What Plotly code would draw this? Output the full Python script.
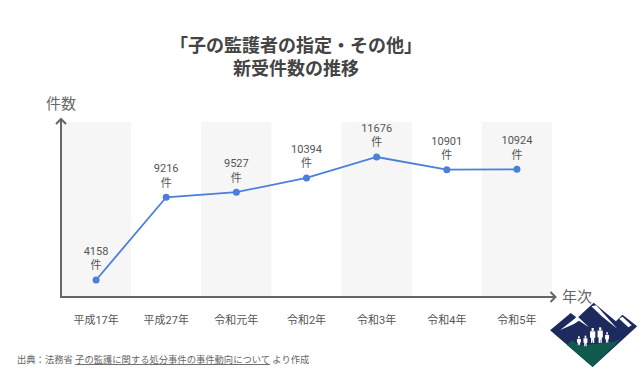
import plotly.graph_objects as go

categories = ["平成17年", "平成27年", "令和元年", "令和2年", "令和3年", "令和4年", "令和5年"]
cases = [4158, 9216, 9527, 10394, 11676, 10901, 10924]
labels = [f"{v}<br>件" for v in cases]
band_indices = [0, 2, 4, 6]

W, H = 640, 380
L, R, T, B = 61, 552.5, 122, 297
FONT = "Roboto, 'Noto Sans CJK JP', sans-serif"
GREY = "#666666"
NAVY = "#1c2a5e"
GREEN = "#0f5a4c"


def px(x):
    return (x - L) / (R - L)


def py(y):
    return (B - y) / (B - T)


def poly(points, color):
    d = "M" + " L".join(f"{px(x):.5f},{py(y):.5f}" for x, y in points) + " Z"
    return dict(type="path", xref="paper", yref="paper", path=d,
                fillcolor=color, line=dict(width=0), layer="above")


def seg(points, width=2, color=GREY):
    d = "M" + " L".join(f"{px(x):.5f},{py(y):.5f}" for x, y in points)
    return dict(type="path", xref="paper", yref="paper", path=d,
                line=dict(color=color, width=width), layer="above")


def lz(points):
    # logo outline points, measured in the logo's own enlarged crop
    return [(545 + x / 3.05, 298 + y / 3) for x, y in points]


def person(cx, top, bottom, w):
    r = w * 0.42
    head = lz([(cx - r, top), (cx + r, top), (cx + r, top + 2.2 * r * 1.2), (cx - r, top + 2.2 * r * 1.2)])
    s = top + 2.2 * r * 1.2 + 1
    body = lz([(cx - w, s), (cx + w, s), (cx + w, s + (bottom - s) * 0.55), (cx + w * 0.6, s + (bottom - s) * 0.55),
               (cx + w * 0.6, bottom), (cx + 1, bottom), (cx, s + (bottom - s) * 0.65), (cx - 1, bottom),
               (cx - w * 0.6, bottom), (cx - w * 0.6, s + (bottom - s) * 0.55), (cx - w, s + (bottom - s) * 0.55)])
    return [poly(head, "white"), poly(body, "white")]


fig = go.Figure()
fig.add_trace(go.Scatter(
    x=categories, y=cases, mode="lines+markers",
    line=dict(color="#4a7fdc", width=1.8),
    marker=dict(color="#4a7fdc", size=7),
    cliponaxis=False, hoverinfo="skip",
))
fig.add_trace(go.Scatter(
    x=categories, y=cases, mode="markers+text",
    marker=dict(size=11, opacity=0),
    text=labels, textposition="top center",
    textfont=dict(family=FONT, size=11, color="#555555"),
    cliponaxis=False, hoverinfo="skip",
))

shapes = [
    dict(type="rect", xref="x", yref="paper", x0=i - 0.5, x1=i + 0.5, y0=0, y1=1,
         fillcolor="#f6f6f6", line=dict(width=0), layer="below")
    for i in band_indices
]
shapes += [
    seg([(61, 119), (61, 297), (555, 297)]),
    seg([(56, 124), (61, 119), (66, 124)]),
    seg([(551, 292), (556, 297), (551, 302)]),
]
# logo
shapes += [
    poly(lz([(17, 97), (80, 45), (100, 60), (150, 14), (218, 70), (238, 50), (283, 85), (147, 207)]), NAVY),
    poly(lz([(68, 140), (85, 127), (105, 143), (210, 132), (232, 124), (147, 207)]), GREEN),
    poly(lz([(48, 96), (88, 65), (100, 55), (136, 88), (105, 68), (90, 78)]), "white"),
    poly(lz([(143, 25), (158, 22), (222, 92), (175, 55)]), "white"),
    poly(lz([(228, 62), (238, 56), (266, 82), (256, 88)]), "white"),
]
shapes += person(105, 115, 142, 6) + person(125, 113, 145, 6) + person(147, 90, 135, 8) \
    + person(170, 88, 135, 8) + person(191, 103, 134, 6)

ann = [
    dict(text="<b>「子の監護者の指定・その他」<br>新受件数の推移</b>", x=px(296), y=py(55), xanchor="center",
         font=dict(family="'Noto Sans CJK JP', sans-serif", size=18, color="#444444"), align="center"),
    dict(text="件数", x=px(61), y=py(104), xanchor="center",
         font=dict(family=FONT, size=15, color=GREY)),
    dict(text="年次", x=px(578), y=py(297), xanchor="center",
         font=dict(family=FONT, size=15, color=GREY)),
    dict(text="出典：法務省 <u>子の監護に関する処分事件の事件動向について</u> より作成",
         x=px(14.5), y=py(359), xanchor="left",
         font=dict(family=FONT, size=9.3, color=GREY)),
]
for a in ann:
    a.update(xref="paper", yref="paper", yanchor="middle", showarrow=False)

fig.update_layout(
    width=W, height=H, paper_bgcolor="white", plot_bgcolor="white", showlegend=False,
    margin=dict(l=L, r=W - R, t=T, b=H - B, autoexpand=False),
    shapes=shapes, annotations=ann,
    xaxis=dict(type="category", range=[-0.5, 6.5], showgrid=False, zeroline=False, showline=False,
               ticks="", ticklabelstandoff=15, tickfont=dict(family=FONT, size=11, color="#555555")),
    yaxis=dict(range=[3119, 13815], showgrid=False, zeroline=False, showline=False,
               showticklabels=False, ticks=""),
)
fig.write_html("out.html", config={"displayModeBar": False},
               post_script="document.body.style.margin='0';document.body.style.overflow='hidden';")
